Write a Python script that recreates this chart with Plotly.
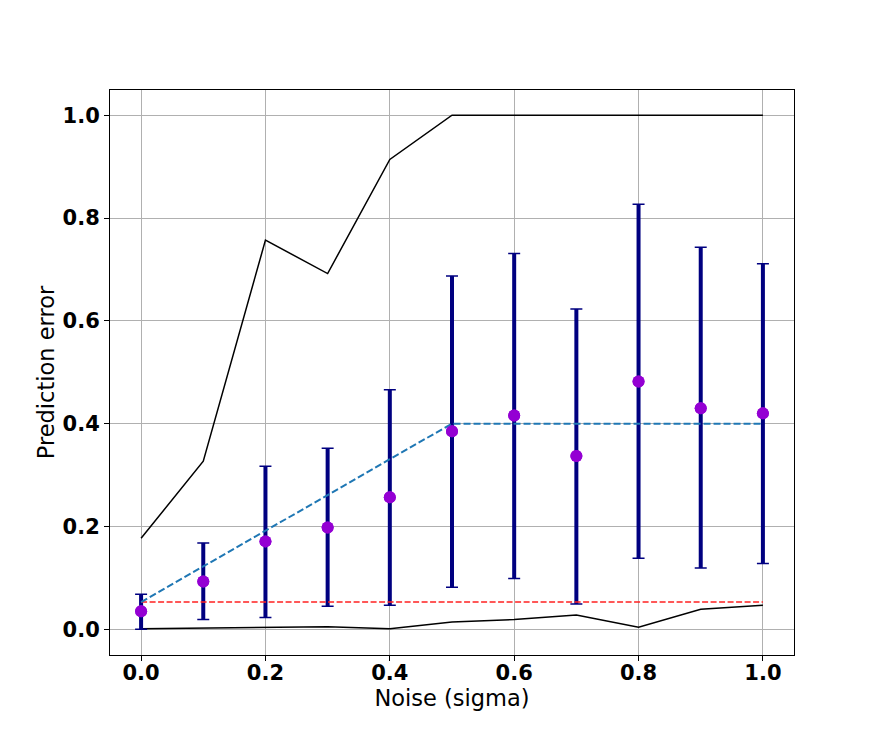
import plotly.graph_objects as go

noise = [0.0, 0.1, 0.2, 0.3, 0.4, 0.5, 0.6, 0.7, 0.8, 0.9, 1.0]
mean_err = [0.035, 0.093, 0.171, 0.198, 0.257, 0.385, 0.416, 0.337, 0.482, 0.430, 0.420]
upper = [0.068, 0.168, 0.317, 0.352, 0.466, 0.687, 0.731, 0.623, 0.827, 0.743, 0.711]
lower = [0.000, 0.019, 0.023, 0.045, 0.047, 0.082, 0.099, 0.049, 0.138, 0.119, 0.128]
max_err = [0.177, 0.327, 0.757, 0.692, 0.914, 1.0, 1.0, 1.0, 1.0, 1.0, 1.0]
min_err = [0.001, 0.002, 0.003, 0.005, 0.001, 0.014, 0.019, 0.028, 0.004, 0.039, 0.047]
baseline = [0.053] * 11
expected = [0.053, 0.122, 0.192, 0.261, 0.331, 0.400, 0.400, 0.400, 0.400, 0.400, 0.400]

err_plus = [u - m for u, m in zip(upper, mean_err)]
err_minus = [m - l for m, l in zip(mean_err, lower)]

fig = go.Figure()
fig.add_trace(go.Scatter(x=noise, y=max_err, mode="lines", line=dict(color="black", width=1.5)))
fig.add_trace(go.Scatter(x=noise, y=min_err, mode="lines", line=dict(color="black", width=1.5)))
# caps (thin)
fig.add_trace(go.Scatter(x=noise, y=mean_err, mode="markers",
                         marker=dict(color="rgba(0,0,0,0)", size=1),
                         error_y=dict(type="data", symmetric=False, array=err_plus, arrayminus=err_minus,
                                      color="#000080", thickness=1.5, width=6), hoverinfo="skip"))
# thick bars
fig.add_trace(go.Scatter(x=noise, y=mean_err, mode="markers",
                         marker=dict(color="#9400D3", size=12),
                         error_y=dict(type="data", symmetric=False, array=err_plus, arrayminus=err_minus,
                                      color="#000080", thickness=4, width=0)))
fig.add_trace(go.Scatter(x=noise, y=baseline, mode="lines",
                         line=dict(color="#ff2020", width=1.6, dash="6px,2.5px")))
fig.add_trace(go.Scatter(x=noise, y=expected, mode="lines",
                         line=dict(color="#1f77b4", width=2, dash="7px,3px")))
fig.add_trace(go.Scatter(x=noise, y=mean_err, mode="markers",
                         marker=dict(color="#9400D3", size=12), hoverinfo="skip"))

axis_common = dict(showline=True, linecolor="black", linewidth=1, mirror=True,
                   ticks="outside", ticklen=5, tickcolor="black",
                   showgrid=True, gridcolor="#b0b0b0", gridwidth=1, zeroline=False,
                   tickfont=dict(family="DejaVu Sans", size=21, color="black", weight="bold"))

fig.update_layout(
    width=882, height=748,
    margin=dict(l=102, r=96, t=82, b=101),
    paper_bgcolor="white", plot_bgcolor="white",
    showlegend=False,
    font=dict(family="DejaVu Sans", color="black"),
    xaxis=dict(range=[-0.05, 1.05], tickvals=[0.0, 0.2, 0.4, 0.6, 0.8, 1.0],
               ticktext=["0.0", "0.2", "0.4", "0.6", "0.8", "1.0"],
               ticklabelstandoff=-6,
               title=dict(text="Noise (sigma)", font=dict(size=22.5, family="DejaVu Sans"), standoff=0),
               **axis_common),
    yaxis=dict(range=[-0.05, 1.049], tickvals=[0.0, 0.2, 0.4, 0.6, 0.8, 1.0],
               ticktext=["0.0", "0.2", "0.4", "0.6", "0.8", "1.0"],
               title=dict(text="Prediction error", font=dict(size=22.5, family="DejaVu Sans"), standoff=1),
               **axis_common),
)

fig.write_html("out.html")
